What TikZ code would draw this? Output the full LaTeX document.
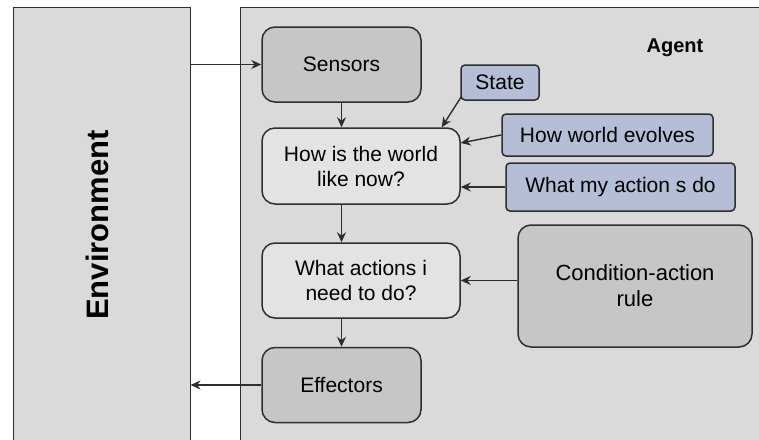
\documentclass[tikz,border=0pt]{standalone}
\usepackage{fontspec}
\setmainfont{Liberation Sans}
\usepackage{tikz}
\usetikzlibrary{calc,arrows.meta}

\definecolor{panelgray}{HTML}{DADADA}
\definecolor{unitgray}{HTML}{C6C6C6}
\definecolor{stepgray}{HTML}{E3E3E3}
\definecolor{knowblue}{HTML}{B5BDD7}
\definecolor{edgegray}{HTML}{2E2E2E}

\begin{document}
\begin{tikzpicture}[x=1pt,y=-1pt,
    panel/.style={draw=edgegray, line width=1pt, fill=panelgray, inner sep=0pt},
    unitbox/.style={draw=edgegray, line width=1.5pt, fill=unitgray, rounded corners=13pt,
        align=center, font=\fontsize{21}{25}\selectfont, inner sep=0pt},
    stepbox/.style={unitbox, fill=stepgray},
    knowbox/.style={draw=edgegray, line width=1.5pt, fill=knowblue, rounded corners=4pt,
        font=\fontsize{21}{25}\selectfont, inner sep=0pt},
    flow/.style={draw=edgegray, line width=1.4pt, -{Stealth[length=10pt,width=9pt]}}]
            % Fix the frame of the picture
            \clip (0,0) rectangle (759,439);
            \fill[white] (0,0) rectangle (759,439);

            % Draw the two big panels
            \node[panel, minimum width=177pt, minimum height=445pt] (env) at (101.5,229.5) {};
            \node[rotate=90, font=\fontsize{31}{31}\selectfont\bfseries] (envlabel) at (97,225) {Environment};
            \node[panel, minimum width=540pt, minimum height=445pt, anchor=north west] (agent) at (240,7) {};
            \node[font=\fontsize{20}{20}\selectfont\bfseries] (agentlabel) at (675,48) {Agent};

            % Draw the main chain of the agent
            \node[unitbox, minimum width=159pt, minimum height=75pt] (sensors) at (341.5,64.5) {Sensors};
            \node[stepbox, minimum width=198pt, minimum height=76pt] (world) at (361,166) {How is the world\\like now?};
            \node[stepbox, minimum width=198pt, minimum height=75pt] (actions) at (361,280.5) {What actions i\\need to do?};
            \node[unitbox, minimum width=159pt, minimum height=75pt] (effectors) at (341.5,385) {Effectors};

            % Draw the knowledge boxes
            \node[knowbox, minimum width=78pt, minimum height=35pt] (state) at (500,82.5) {State};
            \node[knowbox, minimum width=211pt, minimum height=42pt] (evolves) at (607.5,135) {How world evolves};
            \node[knowbox, minimum width=229pt, minimum height=48pt] (myacts) at (620.5,187) {What my action s do};
            \node[unitbox, font=\fontsize{22}{26}\selectfont, minimum width=234pt, minimum height=122pt] (rule) at (635,286) {Condition-action\\rule};

            % Draw the arrows
            \draw[flow] (env.east |- sensors.west) -- (sensors.west);
            \draw[flow] (sensors.south) -- (sensors.south |- world.north);
            \draw[flow] (sensors.south |- world.south) -- (sensors.south |- actions.north);
            \draw[flow] (sensors.south |- actions.south) -- (effectors.north);
            \draw[flow] (effectors.west) -- (effectors.west -| env.east);
            \draw[flow] ([xshift=1pt,yshift=4pt]state.south west) -- ([xshift=-19pt]world.north east);
            \draw[flow] (evolves.west) -- ([yshift=23pt]world.east);
            \draw[flow] (myacts.west) -- (myacts.west -| world.east);
            \draw[flow] (actions.east -| rule.west) -- (actions.east);
        \end{tikzpicture}
\end{document}
